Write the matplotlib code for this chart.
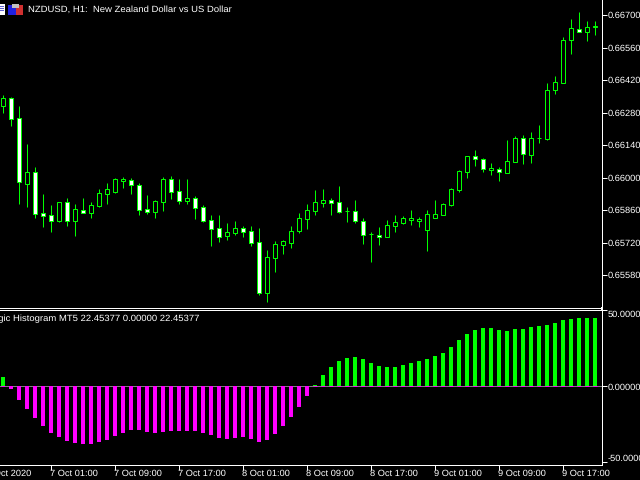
import matplotlib
matplotlib.use('Agg')
import matplotlib.pyplot as plt
from matplotlib.patches import Rectangle

plt.rcParams['font.family'] = ['Liberation Sans', 'DejaVu Sans']
plt.rcParams['text.hinting'] = 'none'

# NZDUSD H1 candles
opens = [0.66308, 0.66342, 0.66256, 0.65972, 0.66024, 0.65847, 0.65838, 0.65813, 0.65894, 0.65813,
         0.65860, 0.65847, 0.65877, 0.65929, 0.65938, 0.65985, 0.65989, 0.65968, 0.65864, 0.65851,
         0.65894, 0.65994, 0.65942, 0.65899, 0.65912, 0.65873, 0.65817, 0.65782, 0.65748, 0.65761,
         0.65782, 0.65770, 0.65722, 0.65502, 0.65653, 0.65709, 0.65718, 0.65770, 0.65821, 0.65856,
         0.65890, 0.65903, 0.65894, 0.65856, 0.65856, 0.65813, 0.65757, 0.65752, 0.65744, 0.65791,
         0.65804, 0.65817, 0.65813, 0.65774, 0.65826, 0.65838, 0.65882, 0.65946, 0.66024, 0.66093,
         0.66080, 0.66032, 0.66037, 0.66019, 0.66067, 0.66170, 0.66097, 0.66170, 0.66166, 0.66377,
         0.66407, 0.66592, 0.66640, 0.66627, 0.66648]
highs = [0.66355, 0.66347, 0.66308, 0.66144, 0.66045, 0.65929, 0.65882, 0.65894, 0.65912, 0.65886,
         0.65912, 0.65894, 0.65950, 0.65976, 0.65998, 0.66002, 0.65998, 0.65976, 0.65925, 0.65903,
         0.66002, 0.66006, 0.65994, 0.65994, 0.65920, 0.65882, 0.65838, 0.65838, 0.65804, 0.65813,
         0.65791, 0.65791, 0.65782, 0.65688, 0.65726, 0.65731, 0.65791, 0.65847, 0.65886, 0.65946,
         0.65950, 0.65912, 0.65963, 0.65873, 0.65903, 0.65826, 0.65765, 0.65787, 0.65817, 0.65838,
         0.65834, 0.65860, 0.65830, 0.65860, 0.65903, 0.65890, 0.65955, 0.66032, 0.66093, 0.66118,
         0.66084, 0.66062, 0.66045, 0.66162, 0.66179, 0.66183, 0.66196, 0.66226, 0.66407, 0.66437,
         0.66605, 0.66683, 0.66713, 0.66674, 0.66674]
lows = [0.66278, 0.66222, 0.65886, 0.65873, 0.65826, 0.65787, 0.65765, 0.65808, 0.65791, 0.65748,
        0.65847, 0.65826, 0.65873, 0.65886, 0.65933, 0.65955, 0.65929, 0.65838, 0.65843, 0.65826,
        0.65856, 0.65907, 0.65886, 0.65886, 0.65821, 0.65808, 0.65705, 0.65722, 0.65731, 0.65752,
        0.65744, 0.65705, 0.65494, 0.65464, 0.65593, 0.65670, 0.65696, 0.65761, 0.65778, 0.65838,
        0.65873, 0.65838, 0.65847, 0.65808, 0.65804, 0.65714, 0.65636, 0.65709, 0.65744, 0.65765,
        0.65800, 0.65795, 0.65787, 0.65683, 0.65826, 0.65838, 0.65877, 0.65938, 0.65998, 0.66050,
        0.66024, 0.66011, 0.65985, 0.66019, 0.66067, 0.66058, 0.66062, 0.66149, 0.66162, 0.66360,
        0.66407, 0.66532, 0.66627, 0.66588, 0.66614]
closes = [0.66342, 0.66252, 0.65981, 0.66024, 0.65843, 0.65834, 0.65813, 0.65894, 0.65813, 0.65864,
          0.65847, 0.65882, 0.65933, 0.65950, 0.65994, 0.65994, 0.65968, 0.65860, 0.65851, 0.65899,
          0.65994, 0.65938, 0.65899, 0.65912, 0.65869, 0.65813, 0.65778, 0.65744, 0.65765, 0.65782,
          0.65765, 0.65718, 0.65502, 0.65658, 0.65714, 0.65726, 0.65770, 0.65826, 0.65860, 0.65894,
          0.65903, 0.65890, 0.65851, 0.65856, 0.65813, 0.65752, 0.65757, 0.65744, 0.65795, 0.65808,
          0.65826, 0.65826, 0.65821, 0.65843, 0.65843, 0.65886, 0.65950, 0.66028, 0.66093, 0.66080,
          0.66037, 0.66041, 0.66024, 0.66071, 0.66170, 0.66101, 0.66170, 0.66170, 0.66377, 0.66411,
          0.66592, 0.66644, 0.66627, 0.66648, 0.66653]

# histogram, one value per candle
hist = [6.1, -1.8, -9.0, -14.9, -20.8, -26.1, -30.7, -33.3, -36.0, -37.3,
        -37.9, -37.9, -36.6, -35.3, -32.7, -30.7, -28.7, -28.7, -30.0, -30.7,
        -30.0, -29.4, -29.4, -29.4, -29.4, -30.7, -32.0, -34.0, -34.6, -34.0,
        -33.3, -34.6, -36.6, -35.3, -31.4, -26.1, -20.2, -13.6, -6.4, 0.9,
        7.5, 12.7, 16.7, 18.6, 19.3, 18.0, 15.4, 13.4, 12.7, 12.7,
        14.0, 15.4, 16.7, 18.0, 20.0, 21.9, 25.9, 30.5, 34.4, 37.1,
        38.4, 38.4, 37.1, 36.4, 37.7, 37.7, 39.0, 39.7, 40.4, 41.7,
        43.6, 44.3, 45.0, 45.0, 45.0]

price_ticks = [0.66700, 0.66560, 0.66420, 0.66280, 0.66140, 0.66000, 0.65860, 0.65720, 0.65580]
hist_ticks = [50, 0, -50]
hist_labels = ['50.00000', '0.00000', '-50.00000']
time_pos = [-2, 6, 14, 22, 30, 38, 46, 54, 62, 70]
time_labels = ['6 Oct 2020', '7 Oct 01:00', '7 Oct 09:00', '7 Oct 17:00', '8 Oct 01:00',
               '8 Oct 09:00', '8 Oct 17:00', '9 Oct 01:00', '9 Oct 09:00', '9 Oct 17:00']

W, H = 640, 480
GREEN = '#00ff00'
MAGENTA = '#ff00ff'
GREY = '#808080'
FS = 6.7
PX = 0.72  # one pixel at dpi 100


def make_axes(left, top, right, bottom):
    ax = fig.add_axes([left / W, 1 - bottom / H, (right - left) / W, (bottom - top) / H])
    ax.set_facecolor('black')
    ax.spines['left'].set_visible(False)
    for s in ['top', 'right', 'bottom']:
        ax.spines[s].set_color('white')
        ax.spines[s].set_linewidth(PX)
    ax.yaxis.tick_right()
    ax.tick_params(axis='y', colors='white', length=3.4, width=PX, pad=1, labelsize=FS)
    return ax


fig = plt.figure(figsize=(6.4, 4.8), dpi=100, facecolor='black')

# candles panel
ax = make_axes(0, 0, 601.5, 307.5)
ax.spines['top'].set_visible(False)
xs = list(range(len(opens)))
# 3.2 rather than 3.5 so snapping lands wicks on pixel 3, not 4
ax.set_xlim(-3.2 / 8, 598.3 / 8)
# 0.66700 sits at pixel 15, 0.0014 takes 32.5 px
ax.set_ylim(0.667 - (307.5 - 15) * 0.0014 / 32.5, 0.667 + 15 * 0.0014 / 32.5)
wicks = ax.vlines(xs, lows, highs, color=GREEN, linewidth=PX, zorder=2)
wicks.set_snap(True)
bottoms = [min(o, c) for o, c in zip(opens, closes)]
heights = [abs(c - o) for o, c in zip(opens, closes)]
fills = ['black' if c >= o else 'white' for o, c in zip(opens, closes)]
bodies = ax.bar(xs, heights, bottom=bottoms, width=0.5, color=fills, edgecolor=GREEN, linewidth=PX, zorder=3)
for b in bodies:
    b.set_snap(True)
ax.set_xticks([])
ax.set_yticks(price_ticks)
ax.set_yticklabels(['%.5f' % p for p in price_ticks])

# histogram panel
ax2 = make_axes(0, 309.5, 601.5, 464.5)
ax2.set_xlim(-3 / 8, 598.5 / 8)
ax2.set_ylim(-(464.5 - 386.3) / 1.52, (386.3 - 309.5) / 1.52)
pos_vals = [v if v > 0 else 0 for v in hist]
neg_vals = [v if v < 0 else 0 for v in hist]
ax2.axhline(0, color=GREY, linewidth=PX, zorder=1).set_snap(True)
for b in ax2.bar(xs, neg_vals, width=0.5, color=MAGENTA, linewidth=0, zorder=2):
    b.set_snap(True)
for b in ax2.bar(xs, pos_vals, width=0.5, color=GREEN, linewidth=0, zorder=3):
    b.set_snap(True)
# the empty buffer still leaves a magenta dash on the zero line
green_x = [x for x, v in zip(xs, hist) if v > 0]
dashes = ax2.hlines([0] * len(green_x), [x - 0.25 for x in green_x], [x + 0.25 for x in green_x],
                    color=MAGENTA, linewidth=PX, zorder=4)
dashes.set_snap(True)
ax2.set_yticks(hist_ticks)
ax2.set_yticklabels(hist_labels)
tick_labels = ax2.get_yticklabels()
tick_labels[0].set_va('top')
tick_labels[2].set_va('bottom')
ax2.yaxis.get_major_ticks()[1].tick2line.set_color(GREY)
ax2.set_xticks(time_pos[1:])
ax2.set_xticklabels([])
ax2.tick_params(axis='x', colors='white', length=3.4, width=PX)
for p, lab in zip(time_pos, time_labels):
    ax2.annotate(lab, xy=(p, 0), xycoords=ax2.get_xaxis_transform(), xytext=(-0.5, -9),
                 textcoords='offset pixels', color='white', fontsize=FS, ha='left', va='center',
                 annotation_clip=False)

# texts
fig.text(28 / W, 1 - 9.5 / H, 'NZDUSD, H1:  New Zealand Dollar vs US Dollar', color='white',
         fontsize=6.8, ha='left', va='center')
fig.text(199 / W, 1 - 318.5 / H, 'Magic Histogram MT5 22.45377 0.00000 22.45377', color='white',
         fontsize=6.8, ha='right', va='center')

# little icons top left, and the piece of right border between the panels
icons = [
    (0, 4, 5, 11, '#ffffff'), (0, 6, 4, 1, '#6060d0'), (0, 8, 4, 1, '#6060d0'), (0, 10, 4, 1, '#6060d0'),
    (8, 5, 8, 10, '#2020e0'), (16, 5, 7, 10, '#d03030'), (12, 4, 7, 4, '#c0c0c0'),
    (601, 307, 1, 3, '#ffffff'),
]
for x, y, w, h, c in icons:
    fig.add_artist(Rectangle((x / W, 1 - (y + h) / H), w / W, h / H, transform=fig.transFigure,
                             facecolor=c, edgecolor='none', antialiased=False))

fig.savefig('out.png', dpi=100, facecolor='black')
